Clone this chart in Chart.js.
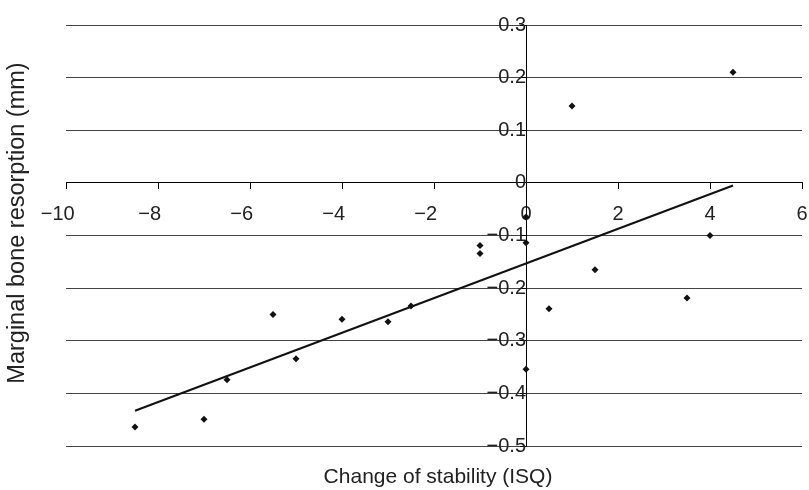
<!DOCTYPE html>
<html>
<head>
<meta charset="utf-8">
<script src="https://cdn.jsdelivr.net/npm/chart.js@4/dist/chart.umd.min.js"></script>
<style>
  html, body { margin: 0; padding: 0; background: #ffffff; }
  canvas { display: block; }
</style>
</head>
<body>
<canvas id="c" width="809" height="490"></canvas>
<script>
// ---- data ----
const xValues = [4.5, 1.0, 0.0, 0.0, -1.0, -1.0, 1.5, 0.5, 4.0, 3.5, 0.0, -5.5, -4.0, -3.0, -2.5, -5.0, -6.5, -7.0, -8.5];
const yValues = [0.21, 0.146, -0.065, -0.114, -0.119, -0.134, -0.165, -0.239, -0.100, -0.219, -0.354, -0.250, -0.259, -0.264, -0.234, -0.334, -0.374, -0.449, -0.464];
const trendX = [-8.5, 4.5];
const trendY = [-0.433, -0.005];
const xTicks = [-10, -8, -6, -4, -2, 0, 2, 4, 6];
const yTicks = [-0.5, -0.4, -0.3, -0.2, -0.1, 0, 0.1, 0.2, 0.3];
const xTitle = 'Change of stability (ISQ)';
const yTitle = 'Marginal bone resorption (mm)';

const FONT = '"Liberation Sans", Arial, Helvetica, sans-serif';
const minusFmt = (v) => String(v).replace('-', '\u2212');
// negative x labels: digits sit on the tick, minus sign hangs to the left
const xFmt = (v) => v < 0 ? minusFmt(v) + '\u00A0\u00A0\u00A0' : minusFmt(v);

const points = xValues.map((x, i) => ({ x: x, y: yValues[i] }));
const trend = trendX.map((x, i) => ({ x: x, y: trendY[i] }));

const noPad = (s) => { s.paddingLeft = 0; s.paddingRight = 0; s.paddingTop = 0; s.paddingBottom = 0; };

const titlesPlugin = {
  id: 'axisTitles',
  afterDraw(chart) {
    const ctx = chart.ctx;
    ctx.save();
    ctx.fillStyle = '#222';
    ctx.textAlign = 'center';
    ctx.textBaseline = 'middle';
    ctx.font = '21px ' + FONT;
    ctx.fillText(xTitle, 438, 477);
    ctx.translate(18, 223);
    ctx.rotate(-Math.PI / 2);
    ctx.font = '23.5px ' + FONT;
    ctx.fillText(yTitle, 0, 0);
    ctx.restore();
  }
};

new Chart(document.getElementById('c'), {
  type: 'scatter',
  data: {
    datasets: [
      {
        data: points,
        pointStyle: 'rectRot',
        pointRadius: 3.5,
        pointBackgroundColor: '#111',
        pointBorderColor: '#111',
        pointBorderWidth: 0,
        showLine: false
      },
      {
        data: trend,
        showLine: true,
        borderColor: '#111',
        borderWidth: 2,
        pointRadius: 0,
        fill: false
      }
    ]
  },
  options: {
    responsive: false,
    animation: false,
    layout: { padding: { left: 66, right: 7, top: 25, bottom: 44 } },
    plugins: { legend: { display: false }, tooltip: { enabled: false } },
    scales: {
      x: {
        type: 'linear',
        position: { y: 0 },
        min: -10, max: 6,
        afterBuildTicks: (s) => { s.ticks = xTicks.map(v => ({ value: v })); },
        afterFit: noPad,
        grid: { drawOnChartArea: false, drawTicks: true, tickLength: 6, color: '#000', tickColor: '#000' },
        border: { display: true, color: '#000', width: 1 },
        ticks: {
          font: { family: FONT, size: 20 },
          color: '#222',
          padding: 14,
          maxRotation: 0,
          autoSkip: false,
          callback: (v) => xFmt(v)
        }
      },
      y: {
        type: 'linear',
        position: { x: 0 },
        min: -0.5, max: 0.3,
        afterBuildTicks: (s) => { s.ticks = yTicks.map(v => ({ value: v })); },
        afterFit: noPad,
        grid: { drawOnChartArea: true, drawTicks: true, tickLength: 6, color: '#444', tickColor: '#000' },
        border: { display: true, color: '#000', width: 1 },
        ticks: {
          font: { family: FONT, size: 20 },
          color: '#222',
          padding: 9,
          autoSkip: false,
          callback: (v) => minusFmt(v)
        }
      }
    }
  },
  plugins: [titlesPlugin]
});
</script>
</body>
</html>
